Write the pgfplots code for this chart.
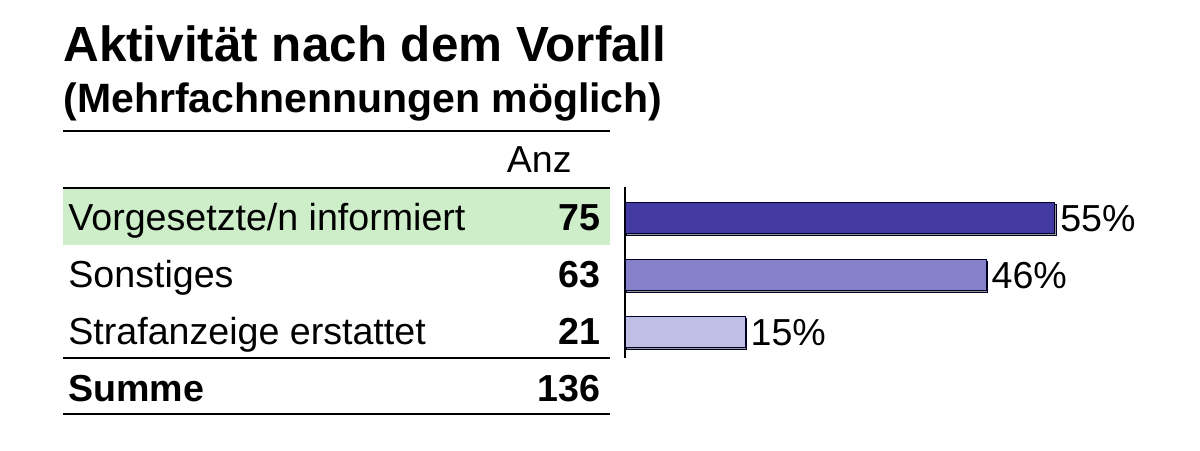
\documentclass[border=0pt]{standalone}
\usepackage{fontspec}
\setmainfont{Liberation Sans}
\usepackage{pgfplots}
\pgfplotsset{compat=1.18}
\definecolor{barA}{RGB}{67,57,163}
\definecolor{barB}{RGB}{134,128,200}
\definecolor{barC}{RGB}{192,190,228}
\definecolor{band}{RGB}{205,238,200}
\newcommand{\rowfont}{\fontsize{18.8bp}{22bp}\selectfont}
\begin{document}
\begin{tikzpicture}
\path (0,0) rectangle (600bp,-225.5bp);
% titles
\node[anchor=base west,inner sep=0pt] at (31.5bp,-30.5bp) {\fontsize{24.7bp}{28bp}\selectfont\bfseries Aktivität nach dem Vorfall};
\node[anchor=base west,inner sep=0pt] at (31.5bp,-56bp) {\fontsize{20.5bp}{24bp}\selectfont\bfseries (Mehrfachnennungen möglich)};
% table
\fill[band] (31.5bp,-94bp) rectangle (305bp,-122.5bp);
\draw[line width=1bp] (31.5bp,-65.5bp) -- (305bp,-65.5bp);
\draw[line width=1bp] (31.5bp,-94bp) -- (305bp,-94bp);
\draw[line width=1bp] (31.5bp,-179bp) -- (305bp,-179bp);
\draw[line width=1bp] (31.5bp,-207bp) -- (305bp,-207bp);
\node[anchor=base east,inner sep=0pt] at (286bp,-86bp) {\rowfont Anz};
\node[anchor=base west,inner sep=0pt] at (34bp,-115bp) {\rowfont Vorgesetzte/n informiert};
\node[anchor=base east,inner sep=0pt] at (300.5bp,-115bp) {\rowfont\bfseries 75};
\node[anchor=base west,inner sep=0pt] at (34bp,-143.5bp) {\rowfont Sonstiges};
\node[anchor=base east,inner sep=0pt] at (300.5bp,-143.5bp) {\rowfont\bfseries 63};
\node[anchor=base west,inner sep=0pt] at (34bp,-172bp) {\rowfont Strafanzeige erstattet};
\node[anchor=base east,inner sep=0pt] at (300.5bp,-172bp) {\rowfont\bfseries 21};
\node[anchor=base west,inner sep=0pt] at (34bp,-200.5bp) {\rowfont\bfseries Summe};
\node[anchor=base east,inner sep=0pt] at (300.5bp,-200.5bp) {\rowfont\bfseries 136};
% bars
\begin{axis}[
  at={(312.5bp,-179bp)}, anchor=south west,
  scale only axis, width=273bp, height=85.5bp,
  xmin=0, xmax=70, ymin=-0.55, ymax=2.45, y dir=reverse,
  axis x line=none, axis y line*=left,
  axis line style={line width=0.8bp},
  xtick=\empty, ytick=\empty,
  xbar, bar width=15.5bp, bar shift=0pt,
  clip=false,
  /pgf/number format/assume math mode=true,
  nodes near coords={\pgfmathprintnumber[fixed,precision=0,assume math mode=true]{\pgfplotspointmeta}\%},
  nodes near coords align={horizontal},
  every node near coord/.append style={font=\rowfont, black, inner sep=0pt, xshift=2.5bp},
  every axis plot/.append style={draw=black!85!blue, line width=0.5bp,
    preaction={fill=black!40, transform canvas={xshift=0.8bp,yshift=-0.8bp}}},
]
\addplot[fill=barA] coordinates {(55.1,0)};
\addplot[fill=barB] coordinates {(46.3,1)};
\addplot[fill=barC] coordinates {(15.4,2)};
\end{axis}
\end{tikzpicture}
\end{document}
